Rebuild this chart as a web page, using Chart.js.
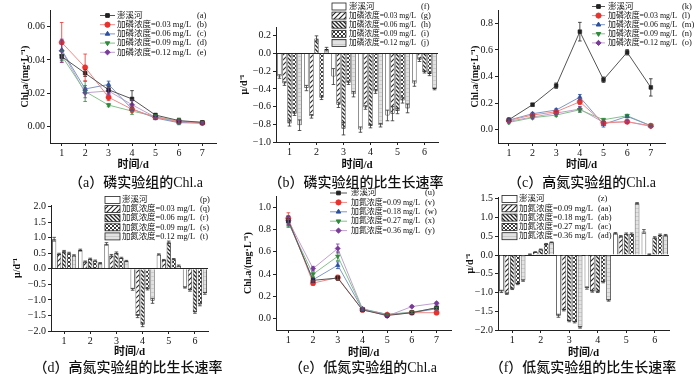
<!DOCTYPE html>
<html><head><meta charset="utf-8">
<script src="https://cdn.jsdelivr.net/npm/chart.js@4.4.0/dist/chart.umd.min.js"></script>
<style>
body{margin:0;background:#fff;width:700px;height:374px;position:relative;overflow:hidden;}
canvas{position:absolute;}
.cap{position:absolute;font:500 14px "Liberation Serif","Noto Sans CJK SC",serif;white-space:nowrap;transform:translateX(-50%);color:#111;}
</style></head><body>
<canvas id="cA"></canvas><canvas id="cB"></canvas><canvas id="cC"></canvas>
<canvas id="cD"></canvas><canvas id="cE"></canvas><canvas id="cF"></canvas>
<div class="cap" style="left:136px;top:171px">（a）磷实验组的Chl.a</div>
<div class="cap" style="left:356px;top:171px">（b）磷实验组的比生长速率</div>
<div class="cap" style="left:582px;top:171px">（c）高氮实验组的Chl.a</div>
<div class="cap" style="left:128px;top:356px">（d）高氮实验组的比生长速率</div>
<div class="cap" style="left:363px;top:356px">（e）低氮实验组的Chl.a</div>
<div class="cap" style="left:583px;top:356px">（f）低氮实验组的比生长速率</div>
<script>
// ---------- data ----------
const days7 = [1,2,3,4,5,6,7];
const days6 = ['1','2','3','4','5','6'];
const labelsP = ['澎溪河','加磷浓度=0.03 mg/L','加磷浓度=0.06 mg/L','加磷浓度=0.09 mg/L','加磷浓度=0.12 mg/L'];
const labelsNH = ['澎溪河','加氮浓度=0.03 mg/L','加氮浓度=0.06 mg/L','加氮浓度=0.09 mg/L','加氮浓度=0.12 mg/L'];
const labelsNL = ['澎溪河','加氮浓度=0.09 mg/L','加氮浓度=0.18 mg/L','加氮浓度=0.27 mg/L','加氮浓度=0.36 mg/L'];
const codesA = ['(a)','(b)','(c)','(d)','(e)'];
const codesB = ['(f)','(g)','(h)','(i)','(j)'];
const codesC = ['(k)','(l)','(m)','(n)','(o)'];
const codesD = ['(p)','(q)','(r)','(s)','(t)'];
const codesE = ['(u)','(v)','(w)','(x)','(y)'];
const codesF = ['(z)','(aa)','(ab)','(ac)','(ad)'];

// (a) phosphorus Chl.a
const aRiver = [0.042,0.032,0.022,0.0165,0.0068,0.0035,0.0024];
const aP003  = [0.0505,0.0355,0.0175,0.0103,0.0055,0.0030,0.0020];
const aP006  = [0.0460,0.0225,0.0252,0.0105,0.0050,0.0022,0.0020];
const aP009  = [0.0425,0.0210,0.0128,0.0092,0.0060,0.0030,0.0025];
const aP012  = [0.0455,0.0202,0.0213,0.0130,0.0055,0.0025,0.0020];
const aErr = [
  [0.001,0.002,0.002,0.005,0.001,0.001,0.0005],
  [0.012,0.008,0.002,0.002,0.001,0.001,0.0005],
  [0.006,0.002,0.002,0.001,0.001,0.0005,0.0005],
  [0.003,0.006,0.001,0.002,0.001,0.002,0.0005],
  [0.007,0.003,0.002,0.003,0.001,0.001,0.0005]];
// (b) phosphorus growth rate
const bRiver = [-0.26,-0.39,-0.26,-0.86,-0.70,-0.34];
const bP003  = [-0.34,-0.71,-0.58,-0.61,-0.68,-0.07];
const bP006  = [-0.79,0.17,-0.85,-0.82,-0.65,-0.21];
const bP009  = [-0.68,-0.50,-0.33,-0.43,-0.53,-0.23];
const bP012  = [-0.81,0.05,-0.46,-0.81,-0.62,-0.40];
const bErr = [
  [0.02,0.03,0.09,0.03,0.06,0.03],
  [0.02,0.02,0.03,0.02,0.08,0.02],
  [0.03,0.03,0.07,0.02,0.03,0.01],
  [0.02,0.02,0.02,0.02,0.03,0.02],
  [0.06,0.02,0.03,0.02,0.05,0.01]];
// (c) high nitrogen Chl.a
const cRiver = [0.075,0.188,0.331,0.737,0.376,0.582,0.318];
const cN003  = [0.070,0.110,0.135,0.210,0.050,0.060,0.030];
const cN006  = [0.072,0.120,0.148,0.245,0.040,0.100,0.030];
const cN009  = [0.055,0.090,0.110,0.150,0.075,0.105,0.030];
const cN012  = [0.063,0.095,0.125,0.155,0.055,0.060,0.025];
const cErr = [
  [0.01,0.01,0.02,0.07,0.02,0.02,0.065],
  [0.01,0.01,0.01,0.02,0.01,0.01,0.005],
  [0.01,0.01,0.01,0.02,0.02,0.01,0.005],
  [0.01,0.01,0.01,0.02,0.01,0.01,0.005],
  [0.01,0.01,0.01,0.02,0.01,0.01,0.005]];
// (d) high nitrogen growth rate
const dRiver = [0.95,0.60,0.80,-0.66,0.46,-0.60];
const dN003  = [0.48,0.23,0.43,-1.52,0.28,-0.69];
const dN006  = [0.56,0.32,0.51,-1.80,0.85,-1.40];
const dN009  = [0.50,0.26,0.35,-0.65,0.31,-1.15];
const dN012  = [0.43,0.18,0.25,-1.03,0.10,-0.79];
const dErr = [
  [0.06,0.03,0.04,0.03,0.02,0.02],
  [0.02,0.02,0.03,0.05,0.02,0.03],
  [0.03,0.02,0.03,0.06,0.04,0.03],
  [0.03,0.02,0.02,0.03,0.02,0.04],
  [0.02,0.02,0.02,0.08,0.02,0.03]];
// (e) low nitrogen Chl.a
const eRiver = [0.88,0.345,0.365,0.080,0.030,0.055,0.100];
const eN009  = [0.90,0.320,0.370,0.080,0.035,0.055,0.055];
const eN018  = [0.87,0.350,0.480,0.085,0.040,0.055,0.090];
const eN027  = [0.86,0.400,0.560,0.090,0.040,0.060,0.095];
const eN036  = [0.88,0.450,0.630,0.090,0.025,0.110,0.140];
const eErr = [
  [0.04,0.02,0.02,0.01,0.005,0.01,0.01],
  [0.05,0.02,0.02,0.01,0.005,0.01,0.01],
  [0.05,0.02,0.03,0.01,0.005,0.01,0.01],
  [0.03,0.02,0.04,0.01,0.005,0.01,0.01],
  [0.04,0.02,0.04,0.01,0.005,0.01,0.01]];
// (f) low nitrogen growth rate
const fRiver = [-0.97,0.02,-1.62,-0.88,0.58,0.63];
const fN009  = [-1.03,0.08,-1.47,-0.97,0.50,0.02];
const fN018  = [-0.90,0.15,-1.76,-0.98,0.57,0.47];
const fN027  = [-0.77,0.30,-1.79,-0.72,0.57,0.54];
const fN036  = [-0.68,0.34,-1.93,-1.21,1.38,0.53];
const fErr = [
  [0.03,0.01,0.04,0.03,0.02,0.05],
  [0.02,0.01,0.02,0.02,0.02,0.01],
  [0.02,0.01,0.02,0.02,0.02,0.02],
  [0.02,0.01,0.02,0.02,0.02,0.02],
  [0.02,0.01,0.02,0.02,0.02,0.02]];

const yTicksA = [0,0.02,0.04,0.06];
const yTicksB = [-1.0,-0.8,-0.6,-0.4,-0.2,0,0.2];
const yTicksC = [0,0.2,0.4,0.6,0.8];
const yTicksD = [-2,-1.5,-1,-0.5,0,0.5,1,1.5,2];
const yTicksE = [0,0.2,0.4,0.6,0.8,1.0];
const yTicksF = [-2,-1.5,-1,-0.5,0,0.5,1,1.5];

// ---------- styles ----------
const FONT = '"Liberation Serif","Noto Sans CJK SC",serif';
Chart.defaults.font.family = FONT;
Chart.defaults.color = '#111';
const lineStyles = [
  {c:'#222', lc:'#555', ps:'rect', rot:0},
  {c:'#e8322e', lc:'#ee8a88', ps:'circle', rot:0},
  {c:'#2a4fa0', lc:'#7f98c8', ps:'triangle', rot:0},
  {c:'#2f8a3a', lc:'#86c08c', ps:'triangle', rot:180},
  {c:'#7a3a9a', lc:'#c0a0d0', ps:'rectRot', rot:0}];

function mkPat(type){
  if(type==='white') return '#ffffff';
  const s = (type==='fwd') ? 5 : 4;
  const c=document.createElement('canvas'); c.width=s; c.height=s;
  const g=c.getContext('2d');
  g.fillStyle = type==='grey' ? '#e2e2e2' : '#ffffff';
  g.fillRect(0,0,s,s);
  g.strokeStyle='#222'; g.lineWidth = 1;
  const fwd=()=>{g.beginPath();g.moveTo(0,s);g.lineTo(s,0);g.moveTo(-s,s);g.lineTo(s,-s);g.moveTo(0,2*s);g.lineTo(2*s,0);g.stroke();};
  const back=()=>{g.beginPath();g.moveTo(0,0);g.lineTo(s,s);g.moveTo(-s,0);g.lineTo(s,2*s);g.moveTo(0,-s);g.lineTo(2*s,s);g.stroke();};
  if(type==='fwd'){ g.lineWidth=1.1; fwd(); }
  if(type==='back'){ g.lineWidth=1.3; back(); }
  if(type==='cross'){ g.lineWidth=0.9; fwd(); back(); }
  if(type==='grey'){ g.strokeStyle='#c4c4c4'; g.lineWidth=0.8; g.beginPath(); g.moveTo(0,0.5); g.lineTo(s,0.5); g.stroke(); }
  return g.createPattern(c,'repeat');
}
const barFills = [mkPat('white'), mkPat('fwd'), mkPat('back'), mkPat('cross'), mkPat('grey')];

const fmt = d => v => (v<0?'\u2212':'') + Math.abs(v).toFixed(d);

// ---------- plugins ----------
const errPlugin = {id:'errbars', afterDatasetsDraw(chart){
  const ctx=chart.ctx, ys=chart.scales.y;
  chart.data.datasets.forEach((ds,di)=>{
    if(!ds.err) return;
    const meta=chart.getDatasetMeta(di);
    ctx.save(); ctx.strokeStyle=ds.errColor||'#333'; ctx.lineWidth=0.8;
    meta.data.forEach((el,i)=>{
      const v=ds.data[i]; const val=(typeof v==='object')?v.y:v; const e=ds.err[i];
      if(!e) return;
      const t=ys.getPixelForValue(val+e), b=ys.getPixelForValue(val-e), x=el.x;
      ctx.beginPath(); ctx.moveTo(x,t); ctx.lineTo(x,b);
      ctx.moveTo(x-1.8,t); ctx.lineTo(x+1.8,t); ctx.moveTo(x-1.8,b); ctx.lineTo(x+1.8,b);
      ctx.stroke();
    });
    ctx.restore();
  });
}};
const legPlugin = {id:'leg', afterDraw(chart, args, o){
  if(!o || o.x1===undefined) return;
  const ctx=chart.ctx, ox=o.ox, oy=o.oy;
  ctx.save();
  ctx.font = '8.5px '+FONT; ctx.textBaseline='middle';
  chart.data.datasets.forEach((ds,i)=>{
    const y=o.y0+i*o.dy-oy, x1=o.x1-ox, x2=o.x2-ox;
    if(o.kind==='line'){
      ctx.strokeStyle=ds.borderColor; ctx.lineWidth=1;
      ctx.beginPath(); ctx.moveTo(x1,y); ctx.lineTo(x2,y); ctx.stroke();
      ctx.fillStyle=ds.pointBackgroundColor; ctx.strokeStyle=ds.pointBorderColor;
      Chart.helpers.drawPoint(ctx,{pointStyle:ds.pointStyle,radius:2.6,rotation:ds.pointRotation||0,borderWidth:0.8},(x1+x2)/2,y);
    } else {
      ctx.fillStyle=ds.backgroundColor; ctx.fillRect(x1,y-3.5,x2-x1,7);
      ctx.strokeStyle='#222'; ctx.lineWidth=0.8; ctx.strokeRect(x1,y-3.5,x2-x1,7);
    }
    ctx.fillStyle='#111';
    ctx.fillText(ds.label, o.xt-ox, y, o.xc - o.xt - 5);
    ctx.fillText(ds.code, o.xc-ox, y);
  });
  ctx.restore();
}};

// ---------- builders ----------
function place(id, left, top, w, h){
  const c=document.getElementById(id);
  c.width=w; c.height=h; c.style.left=left+'px'; c.style.top=top+'px';
  return c;
}
function axisCommon(){
  return {
    grid:{drawOnChartArea:false, drawTicks:true, tickLength:3, color:'#222', tickColor:'#222'},
    border:{display:true, color:'#222', width:1},
  };
}
function makeChart(p){
  const c = place(p.id, p.left, p.top, p.w, p.h);
  const isBar = p.type==='bar';
  const datasets = p.series.map((s,i)=>{
    if(isBar){
      return {label:p.labels[i], code:p.codes[i], data:s, err:p.err[i], errColor:'#333',
        backgroundColor:barFills[i], borderColor:'#222', borderWidth:0.8,
        categoryPercentage:p.catPct, barPercentage:0.86};
    }
    const st=lineStyles[i];
    return {label:p.labels[i], code:p.codes[i], data:s.map((v,k)=>({x:days7[k], y:v})), err:p.err[i], errColor:st.c,
      borderColor:st.lc, borderWidth:1, pointStyle:st.ps, pointRotation:st.rot, pointRadius:2.6,
      pointBackgroundColor:st.c, pointBorderColor:st.c, pointBorderWidth:0.6, tension:0, fill:false};
  });
  const xAx = Object.assign(axisCommon(), {
    title:{display:true, text:'时间/d', font:{size:11, weight:'bold'}, padding:{top:0,bottom:0}, color:'#111'},
    ticks:{font:{size:10}, padding:1, maxRotation:0, autoSkip:false},
    afterFit: s => { s.height = p.top + p.h - p.B; }
  });
  if(isBar){
    xAx.type='category'; xAx.offset=true; xAx.grid.offset=false;
  } else {
    xAx.type='linear'; xAx.min=p.xmin; xAx.max=p.xmax;
    xAx.afterBuildTicks = s => { s.ticks = days7.map(v=>({value:v})); };
    xAx.ticks.callback = v => String(v);
  }
  const yAx = Object.assign(axisCommon(), {
    type:'linear', min:p.ymin, max:p.ymax,
    title:{display:true, text:p.ytitle, font:{size:10, weight:'bold'}, padding:{top:0,bottom:0}, color:'#111'},
    ticks:{font:{size:10}, padding:2, callback: fmt(p.dec)},
    afterBuildTicks: s => { s.ticks = p.yticks.map(v=>({value:v})); },
    afterFit: s => { s.width = p.L - p.left; }
  });
  if(isBar){
    yAx.grid = {drawOnChartArea:true, drawTicks:true, tickLength:3, tickColor:'#222', lineWidth:1,
      color: ctx => (ctx.tick && Math.abs(ctx.tick.value)<1e-9) ? '#222' : 'rgba(0,0,0,0)'};
  }
  new Chart(c, {
    type: isBar ? 'bar' : 'line',
    data: {labels: isBar ? days6 : undefined, datasets},
    options: {
      responsive:false, animation:false, devicePixelRatio:1,
      layout:{padding:{left:0, top:p.T - p.top, right:(p.left+p.w)-p.R, bottom:0}},
      scales:{x:xAx, y:yAx},
      plugins:{legend:{display:false}, title:{display:false}, tooltip:{enabled:false},
        leg:{kind:isBar?'bar':'line', ox:p.left, oy:p.top, x1:p.lg.x1, x2:p.lg.x2, xt:p.lg.xt, xc:p.lg.xc, y0:p.lg.y0, dy:p.lg.dy}}
    },
    plugins:[errPlugin, legPlugin]
  });
}

const CHL = 'Chl.a/(mg·L⁻¹)';
const MU = 'μ/d⁻¹';

makeChart({id:'cA', type:'line', left:19, top:0, w:202, h:172, L:50, R:217, T:10, B:143,
  series:[aRiver,aP003,aP006,aP009,aP012], err:aErr, labels:labelsP, codes:codesA,
  xmin:0.5, xmax:7.6, ymin:-0.01, ymax:0.07, yticks:yTicksA, dec:2, ytitle:CHL,
  lg:{x1:100, x2:115, xt:117, xc:197, y0:15.5, dy:9.2}});
makeChart({id:'cB', type:'bar', left:238, top:0, w:204, h:172, L:276, R:438, T:27, B:142, catPct:0.93,
  series:[bRiver,bP003,bP006,bP009,bP012], err:bErr, labels:labelsP, codes:codesB,
  ymin:-1.0, ymax:0.3, yticks:yTicksB, dec:1, ytitle:MU,
  lg:{x1:332, x2:346, xt:349, xc:421, y0:6.5, dy:9.1}});
makeChart({id:'cC', type:'line', left:469, top:0, w:230, h:172, L:498, R:665, T:10, B:143,
  series:[cRiver,cN003,cN006,cN009,cN012], err:cErr, labels:labelsP, codes:codesC,
  xmin:0.54, xmax:7.6, ymin:-0.1, ymax:0.9, yticks:yTicksC, dec:1, ytitle:CHL,
  lg:{x1:592, x2:605, xt:608, xc:682, y0:6.5, dy:9.1}});
makeChart({id:'cD', type:'bar', left:11, top:188, w:201, h:171, L:51, R:208, T:205, B:331, catPct:0.95,
  series:[dRiver,dN003,dN006,dN009,dN012], err:dErr, labels:labelsNH, codes:codesD,
  ymin:-2.0, ymax:2.05, yticks:yTicksD, dec:1, ytitle:MU,
  lg:{x1:105, x2:120, xt:122, xc:200, y0:200, dy:9.1}});
makeChart({id:'cE', type:'line', left:242, top:188, w:214, h:172, L:276, R:452, T:191, B:330,
  series:[eRiver,eN009,eN018,eN027,eN036], err:eErr, labels:labelsNL, codes:codesE,
  xmin:0.5, xmax:7.6, ymin:-0.1, ymax:1.1, yticks:yTicksE, dec:1, ytitle:CHL,
  lg:{x1:330, x2:347, xt:351, xc:425, y0:193, dy:9.4}});
makeChart({id:'cF', type:'bar', left:464, top:188, w:209, h:172, L:498, R:669, T:197, B:330, catPct:0.95,
  series:[fRiver,fN009,fN018,fN027,fN036], err:fErr, labels:labelsNL, codes:codesF,
  ymin:-2.0, ymax:1.55, yticks:yTicksF, dec:1, ytitle:MU,
  lg:{x1:502, x2:517, xt:519, xc:598, y0:199, dy:9.3}});
</script>
</body></html>
